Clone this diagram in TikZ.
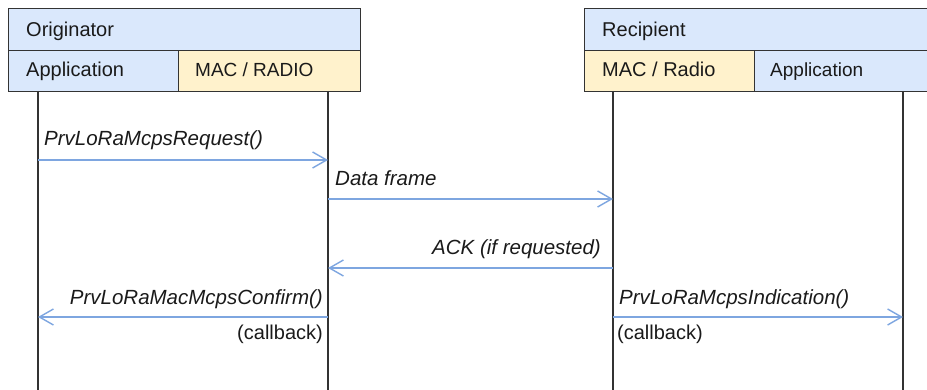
\documentclass[tikz,border=0pt]{standalone}
\usepackage{fontspec}
\setmainfont{Liberation Sans}
\usetikzlibrary{arrows.meta}
\definecolor{hdrblue}{HTML}{DAE8FC}
\definecolor{hdryellow}{HTML}{FFF2CC}
\definecolor{msgblue}{HTML}{7EA6E0}
\definecolor{edgegray}{HTML}{333333}
\definecolor{txt}{HTML}{1A1A1A}
\begin{document}
\begin{tikzpicture}[x=1pt,y=-1pt,
  box/.style={draw=edgegray, line width=1.4pt, rectangle, inner sep=0pt, anchor=north west},
  hdrtext/.style={anchor=base west, inner sep=0pt, text=txt, font=\fontsize{20}{24}\selectfont},
  msgtext/.style={inner sep=0pt, text=txt, font=\fontsize{20.5}{24}\selectfont\itshape},
  cbtext/.style={inner sep=0pt, text=txt, font=\fontsize{20}{24}\selectfont},
  life/.style={draw=edgegray, line width=1.4pt},
  msg/.style={draw=msgblue, line width=1.4pt, -{Straight Barb[length=14pt,width=16pt,line width=1.4pt]}}]
\useasboundingbox (0,0) rectangle (927,390);
\begin{scope}
\clip (0,0) rectangle (927,390);

% originator header
\node[box, fill=hdrblue, minimum width=352pt, minimum height=42pt] (orig) at (8,8) {};
\node[box, fill=hdrblue, minimum width=170pt, minimum height=41pt] (origapp) at (8,50) {};
\node[box, fill=hdryellow, minimum width=182pt, minimum height=41pt] (origmac) at (178,50) {};
\node[hdrtext] (origT) at (26,37) {Originator};
\node[hdrtext] (origappT) at (26,77) {Application};
\node[hdrtext, font=\fontsize{19}{23}\selectfont] (origmacT) at (195,77) {MAC / RADIO};

% recipient header (runs off the right edge)
\node[box, fill=hdrblue, minimum width=352pt, minimum height=42pt] (recp) at (584,8) {};
\node[box, fill=hdryellow, minimum width=170pt, minimum height=41pt] (recpmac) at (584,50) {};
\node[box, fill=hdrblue, minimum width=182pt, minimum height=41pt] (recpapp) at (754,50) {};
\node[hdrtext] (recpT) at (602,37) {Recipient};
\node[hdrtext] (recpmacT) at (602,77) {MAC / Radio};
\node[hdrtext, font=\fontsize{19}{23}\selectfont] (recpappT) at (770,77) {Application};

% lifelines
\coordinate (oaTop) at (38,91);   \coordinate (oaBot) at (38,392);
\coordinate (omTop) at (328,91);  \coordinate (omBot) at (328,392);
\coordinate (rmTop) at (613,91);  \coordinate (rmBot) at (613,392);
\coordinate (raTop) at (903,91);  \coordinate (raBot) at (903,392);
\draw[life] (oaTop) -- (oaBot);
\draw[life] (omTop) -- (omBot);
\draw[life] (rmTop) -- (rmBot);
\draw[life] (raTop) -- (raBot);

% message end points on the lifelines
\coordinate (reqA) at (38,160);  \coordinate (reqB) at (328,160);
\coordinate (dataA) at (328,199); \coordinate (dataB) at (613,199);
\coordinate (ackA) at (613,268); \coordinate (ackB) at (328,268);
\coordinate (cnfA) at (328,317); \coordinate (cnfB) at (38,317);
\coordinate (indA) at (613,317); \coordinate (indB) at (903,317);

% messages
\draw[msg] (reqA) -- (reqB);
\draw[msg] (dataA) -- (dataB);
\draw[msg] (ackA) -- (ackB);
\draw[msg] (cnfA) -- (cnfB);
\draw[msg] (indA) -- (indB);

% message labels
\node[msgtext, anchor=base west] (reqT) at (44,146) {PrvLoRaMcpsRequest()};
\node[msgtext, anchor=base west] (dataT) at (335,186) {Data frame};
\node[msgtext, anchor=base east] (ackT) at (601,255) {ACK (if requested)};
\node[msgtext, anchor=base east] (cnfT) at (323,305) {PrvLoRaMacMcpsConfirm()};
\node[cbtext, anchor=base east] (cnfCb) at (323,339) {(callback)};
\node[msgtext, anchor=base west] (indT) at (619,305) {PrvLoRaMcpsIndication()};
\node[cbtext, anchor=base west] (indCb) at (617,339) {(callback)};
\end{scope}
\end{tikzpicture}
\end{document}
